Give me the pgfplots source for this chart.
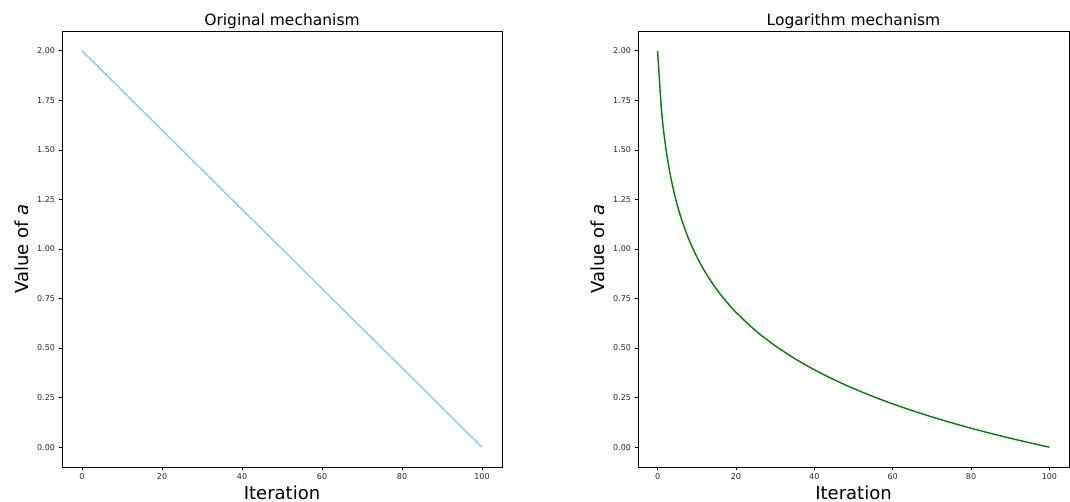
\documentclass[border=0pt]{standalone}
\usepackage{fontspec}
\setmainfont{DejaVu Sans}
\usepackage{pgfplots}
\pgfplotsset{compat=1.18}
\begin{document}
\begin{tikzpicture}
\useasboundingbox (0pt,0pt) rectangle (1070pt,502pt);
\pgfplotsset{
  myax/.style={
    scale only axis,
    height=436pt,
    xmin=-5, xmax=105, ymin=-0.1, ymax=2.1,
    xtick={0,20,40,60,80,100},
    ytick={0,0.25,0.5,0.75,1,1.25,1.5,1.75,2},
    yticklabel style={/pgf/number format/.cd,fixed,fixed zerofill,precision=2},
    /pgf/number format/assume math mode=true,
    tick label style={font=\fontsize{8}{9}\selectfont, text=black!85},
    tick align=outside, tick pos=left,
    major tick length=3.5pt,
    every tick/.style={black, line width=0.8pt},
    axis line style={line width=0.9pt},
    xlabel={Iteration},
    ylabel={Value of \textit{a}},
    label style={font=\fontsize{18}{19}\selectfont},
    xlabel style={yshift=1pt},
    ylabel style={yshift=2pt},
    title style={font=\fontsize{15.5}{16}\selectfont, yshift=-7pt},
    clip=false,
  }
}
\begin{axis}[myax, at={(62pt,35pt)}, anchor=south west, width=440pt, title={Original mechanism}]
\addplot[color={rgb,255:red,135;green,206;blue,250}, line width=1.4pt] coordinates {(0,2) (100,0)};
\end{axis}
\begin{axis}[myax, at={(638pt,35pt)}, anchor=south west, width=431pt, title={Logarithm mechanism}]
\addplot[color={rgb,255:red,0;green,128;blue,0}, line width=1.4pt, smooth] coordinates {
(0,2.000) (1,1.6996) (2,1.5239) (3,1.3992) (4,1.3025) (5,1.2235) (6,1.1567) (7,1.0989) (8,1.0478)
(10,0.9609) (12,0.8885) (14,0.8264) (16,0.7722) (18,0.7240) (20,0.6806) (25,0.5881) (30,0.5119)
(35,0.4471) (40,0.3907) (45,0.3408) (50,0.2961) (55,0.2556) (60,0.2185) (65,0.1844) (70,0.1527)
(75,0.1232) (80,0.0956) (85,0.0697) (90,0.0452) (95,0.0220) (100,0.0000)};
\end{axis}
\end{tikzpicture}
\end{document}
